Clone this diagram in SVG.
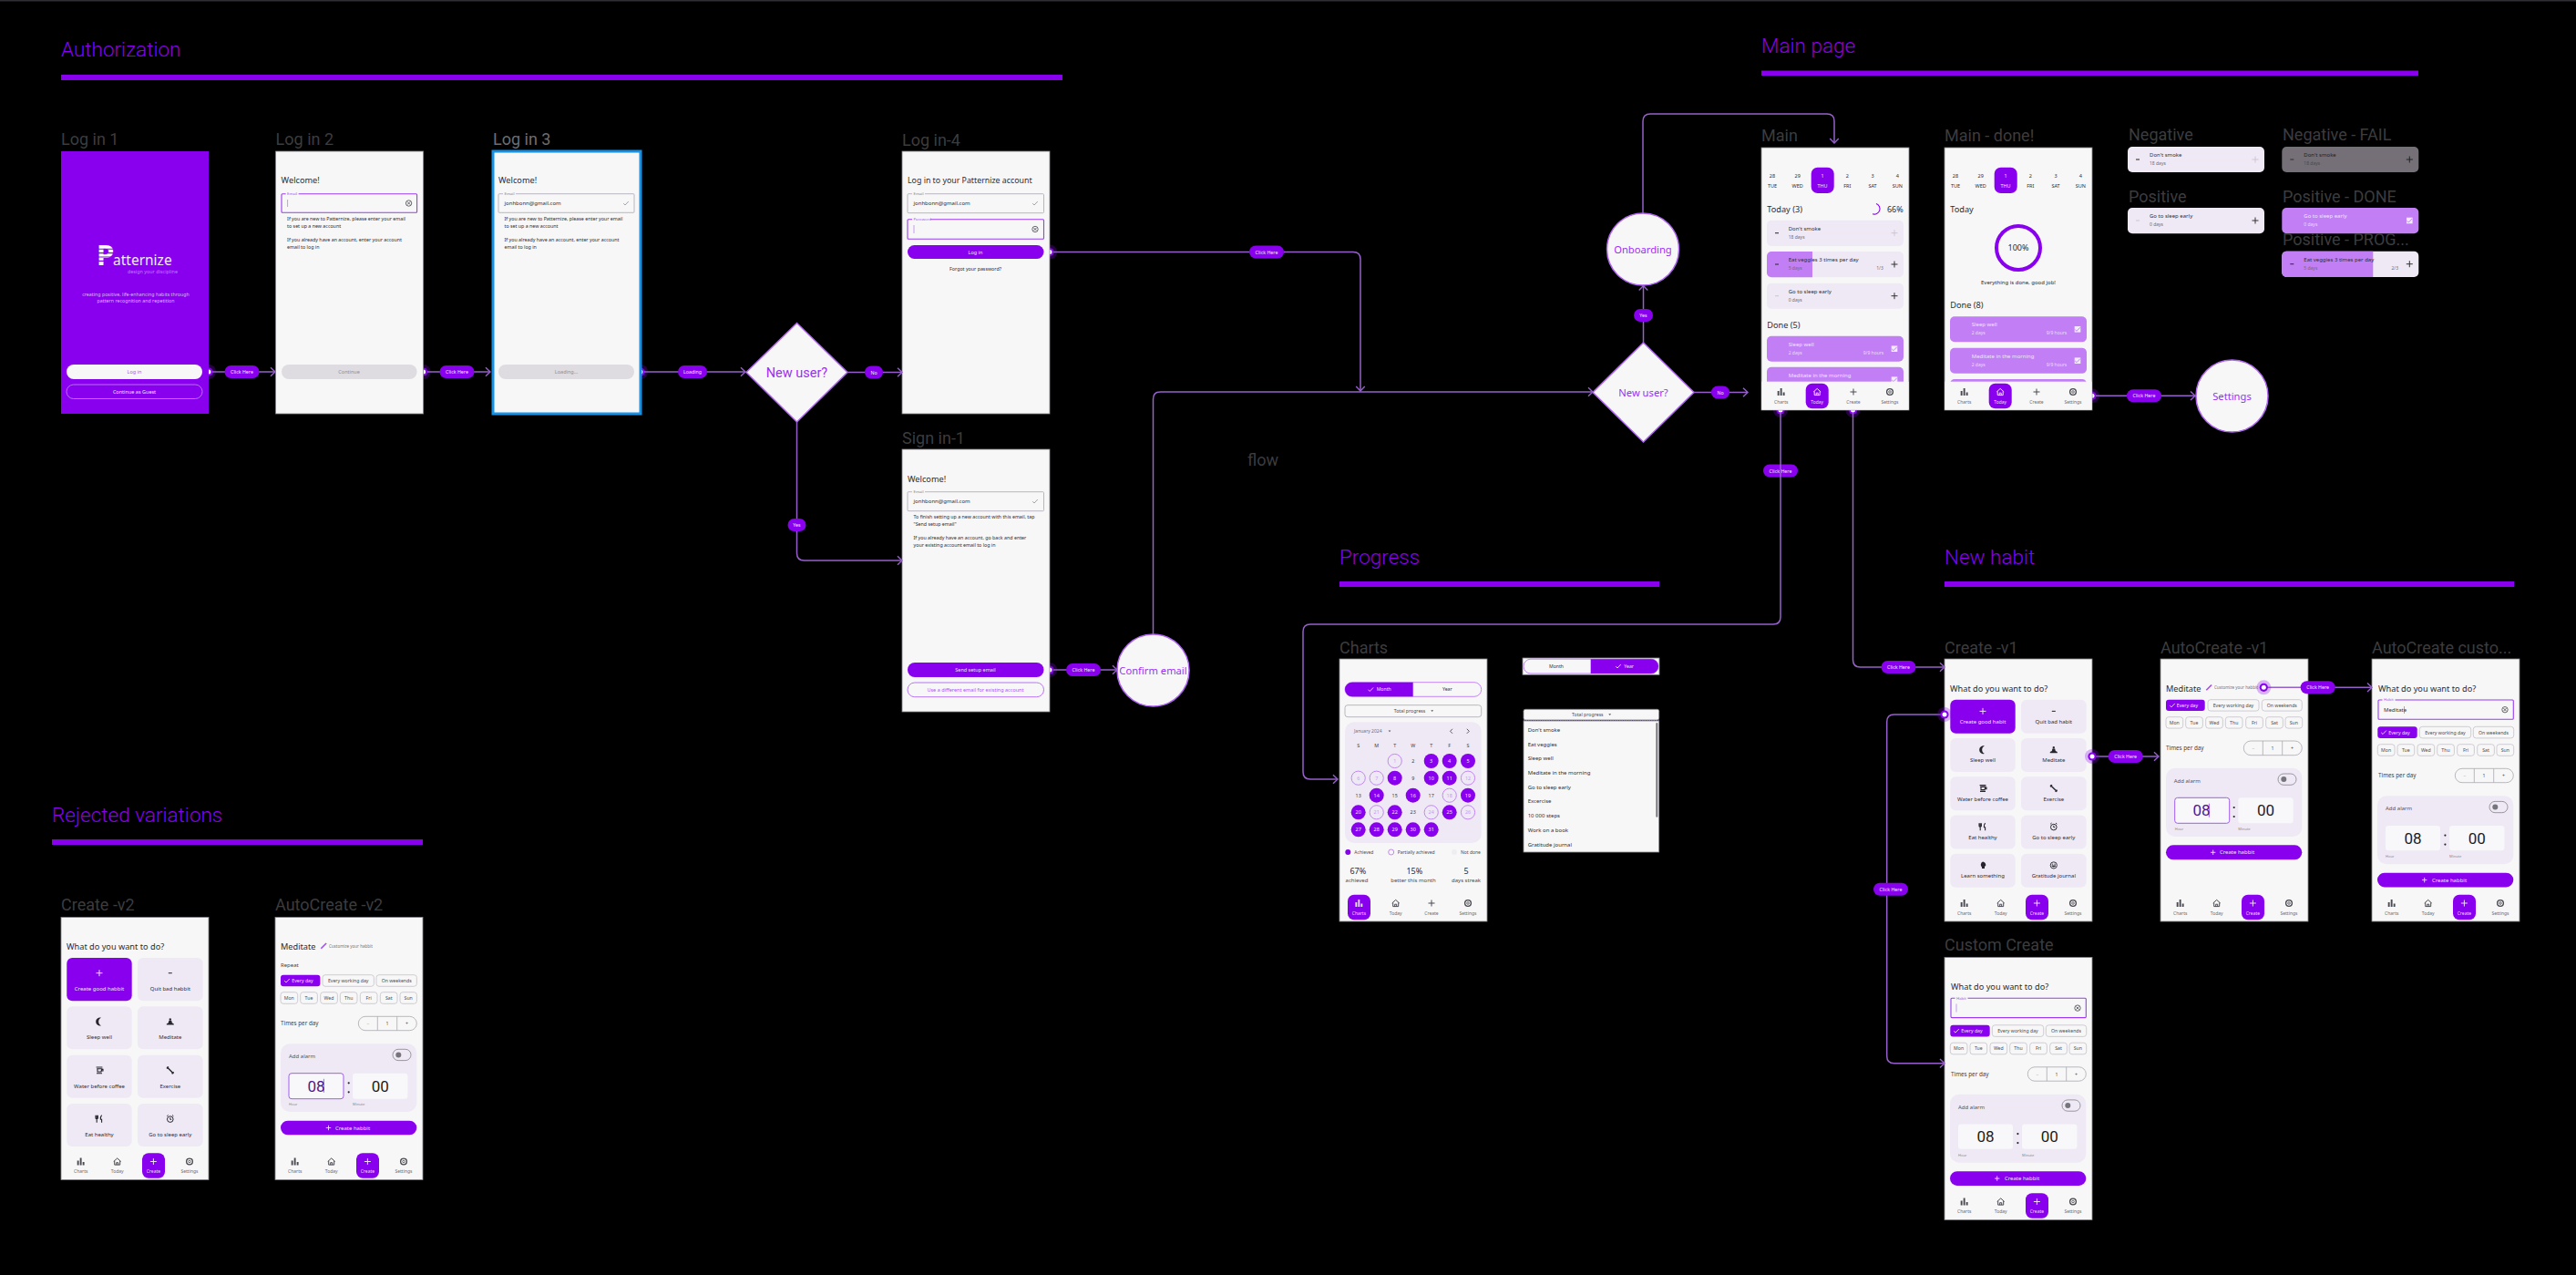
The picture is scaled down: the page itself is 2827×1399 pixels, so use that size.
<svg xmlns="http://www.w3.org/2000/svg" width="2827" height="1399" viewBox="0 0 2827 1399">
<style>
text{font-family:"Noto Sans","Open Sans",sans-serif;fill:#2c2c33}
.lbl{font-family:Roboto,sans-serif;font-size:18px;fill:#3c3c3e}
.sec{font-family:Roboto,sans-serif;font-size:22.5px;font-weight:300;fill:#8800ee}
.bar{fill:#8800ee}
.f{fill:#f7f7f7;stroke:#85858a;stroke-width:.8}
.h{font-size:9.2px}
.m{text-anchor:middle}
.s6{font-size:6px}
.s5{font-size:5px;fill:#4c4c52}
.hint{font-size:5.3px;fill:#2c2c33}
.flab{font-size:4.3px;fill:#8a8790}
.flabp{font-size:4.3px;fill:#a45cf0}
.fld{fill:#f7f7f7;stroke:#bab6c0;stroke-width:1}
.fldp{fill:#f7f7f7;stroke:#9a3cf2;stroke-width:1.1}
.on{fill:#8800ee}
.btx{font-size:5.5px;fill:#f0e0ff;text-anchor:middle}
.btp{font-size:5.5px;fill:#a855f7;text-anchor:middle}
.dis{fill:#dedce0}
.dtx{font-size:5.5px;fill:#8f8d93;text-anchor:middle}
.ol{fill:none;stroke:#b775f5;stroke-width:1}
.tab{font-size:5px;fill:#6d6d72;text-anchor:middle}
.tabon{font-size:5px;fill:#ecdcff;text-anchor:middle}
.dt{font-size:5.5px;text-anchor:middle;fill:#2c2c33}
.dton{font-size:5.5px;text-anchor:middle;fill:#efe0ff}
.card{fill:#efe9f5}
.prog{fill:#c17ef5}
.t{font-size:6px;fill:#2f2f36}
.st{font-size:5px;fill:#6f6d74}
.td{font-size:6px;fill:#f0e4ff}
.sd{font-size:5px;fill:#ecdcff}
.chip{fill:#f7f7f7;stroke:#c5c1ca;stroke-width:.8}
.c{font-size:5.2px;fill:#4c4c52;text-anchor:middle}
.cw{font-size:5.2px;fill:#efe0ff;text-anchor:middle}
.st1{fill:#f7f7f7;stroke:#aaa7ae;stroke-width:.8}
.dv{stroke:#aaa7ae;stroke-width:.8}
.big{font-family:Roboto,sans-serif;font-size:17px;text-anchor:middle;fill:#1c1c22}
.bigp{font-family:Roboto,sans-serif;font-size:17px;text-anchor:middle;fill:#4b1a8c}
.box{fill:#f8f7f9}
.boxp{fill:#f8f7f9;stroke:#a25cf2;stroke-width:1}
.tiny{font-size:4px;fill:#8a8790}
.kn{fill:#77757c}
.sw{fill:none;stroke:#8f8d93;stroke-width:.9}
.cal{font-size:5.4px;text-anchor:middle;fill:#3c3c42}
.calw{font-size:5.4px;text-anchor:middle;fill:#c896f8}
.calp{fill:none;stroke:#bb7cf5;stroke-width:.9}
.node{fill:#f7f7f7;stroke:#b067f2;stroke-width:1.5}
.ntx{font-size:11.2px;fill:#9a30f5;text-anchor:middle}
.lnk{fill:none;stroke:#9560ca;stroke-width:1.5}
.arr{marker-end:url(#arrow)}
.pill rect{fill:#8800ee}
.pill text{font-size:5.3px;fill:#f5e9ff;text-anchor:middle}
.i{color:#4a4a52}
</style>
<defs>
<marker id="arrow" markerUnits="userSpaceOnUse" markerWidth="8" markerHeight="12" viewBox="0 0 7 12" refX="6" refY="6" orient="auto"><path d="M1 1.2L6 6L1 10.8" fill="none" stroke="#9560ca" stroke-width="1.4"/></marker>
<g id="hot"><circle r="8" fill="#8800ee" opacity=".28"/><circle r="4.6" fill="#8800ee"/><circle r="2.5" fill="#fff"/></g>
<path id="i-bars" fill="currentColor" d="M-4-1h1.9v5h-1.9zM-1-4h1.9v8h-1.9zM2 0.5h1.9v3.5h-1.9z"/>
<path id="i-home" fill="none" stroke="currentColor" d="M-4 0L0-3.6L4 0M-3-.6V3.6H3V-.6M-1 3.6V1.2H1V3.6"/>
<path id="i-plus" fill="none" stroke="currentColor" d="M-3.5 0H3.5M0-3.5V3.5"/>
<path id="i-minus" fill="none" stroke="currentColor" stroke-width="1.1" d="M-2 0H2"/>
<g id="i-gear" fill="none" stroke="currentColor"><circle r="3.4" stroke-width="1.3"/><circle r="1.3" stroke-width=".8"/></g>
<path id="i-check" fill="none" stroke="currentColor" stroke-width=".9" d="M-2.8.2L-1 2L2.8-2"/>
<g id="i-clear" fill="none" stroke="#45454c" stroke-width=".8"><circle r="3.2"/><path d="M-1.6-1.6L1.6 1.6M1.6-1.6L-1.6 1.6"/></g>
<path id="i-moon" fill="currentColor" d="M2 -4.4C-1.5 -5 -3.8 -2.6 -3.8 0C-3.8 2.6 -1.5 5 2 4.4C0 3.4 -0.8 1.6 -0.8 0C-0.8 -1.6 0 -3.4 2 -4.4Z"/>
<path id="i-med" fill="currentColor" d="M0-3.8a1.2 1.2 0 1 1-.01 0ZM-1.4-1.2H1.4L2 1.2L4 2.4V3.6H-4V2.4L-2 1.2Z"/>
<path id="i-cup" fill="none" stroke="currentColor" stroke-width="1.1" d="M-3.4-3.4H3.4M-2.8-1.6H2.8L2 1.6H-2V-1.6M2.8-1H4V.6H2.4M-3 3.4H3"/>
<path id="i-dumb" fill="none" stroke="currentColor" stroke-width="1.4" d="M-3.6-3.6L3.6 3.6M-3.8-1.8L-1.8-3.8M1.8 3.8L3.8 1.8"/>
<path id="i-fork" fill="none" stroke="currentColor" stroke-width="1.1" d="M-4-4V-1Q-4 0-2.8 0Q-1.6 0-1.6-1V-4M-2.8-4V4M2.6-4Q1 -2 1.4 .6H2.6V4"/>
<g id="i-alarm" fill="none" stroke="currentColor" stroke-width="1"><circle cy=".4" r="3.3"/><path d="M0-1.4V.6H1.4M-3.6-3L-2.2-4.2M3.6-3L2.2-4.2"/></g>
<path id="i-brain" fill="currentColor" d="M0-3.8A3.6 3.6 0 0 1 3.2.6L2 1.4V3.6H-1V2.2A3.6 3.6 0 0 1 0-3.8Z"/>
<g id="i-smile" fill="none" stroke="currentColor" stroke-width=".9"><circle r="3.6"/><path d="M-2 .6Q0 2.8 2 .6Z" fill="currentColor"/><path d="M-2-1.2H-.6M.6-1.2H2"/></g>
<path id="i-pen" fill="none" stroke="#a24cf2" stroke-width="1.6" d="M-3 3L2.8-2.8"/>
<path id="i-cb" fill="#f3eaff" d="M-3.3-3.3H3.3V3.3H-3.3Z"/>
<path id="i-caret" fill="#55555c" d="M-1.4-.8H1.4L0 .9Z"/>
</defs>
<rect width="2827" height="1399" fill="#000"/>
<rect width="2827" height="1.5" fill="#2f2f33"/>

<g id="connector-anchors"><use href="#hot" x="229" y="408"/><use href="#hot" x="464.6" y="408"/><use href="#hot" x="703" y="408"/><use href="#hot" x="1152" y="276.5"/><use href="#hot" x="1152" y="735"/><use href="#hot" x="1954" y="450"/><use href="#hot" x="2033.5" y="450"/><use href="#hot" x="2296" y="434.3"/></g>

<g id="sections">
<text class="sec" x="67" y="62">Authorization</text><rect class="bar" x="67" y="82" width="1099" height="6"/>
<text class="sec" x="1933" y="58">Main page</text><rect class="bar" x="1933" y="77.5" width="721" height="5.5"/>
<text class="sec" x="1470" y="619">Progress</text><rect class="bar" x="1470" y="638" width="351" height="6"/>
<text class="sec" x="2134" y="619">New habit</text><rect class="bar" x="2134" y="638" width="625" height="6"/>
<text class="sec" x="57" y="902">Rejected variations</text><rect class="bar" x="57" y="921" width="407" height="6"/>
<text class="lbl" x="1369" y="511">flow</text>
</g>

<g id="login1"><text class="lbl" x="67" y="159">Log in 1</text>
<g transform="translate(67,166)"><rect width="162" height="288" fill="#8800ee"/>
<text x="39" y="125" font-size="31" font-weight="700" style="fill:#fff">P</text>
<path d="M38 107.2H62M38 111.6H62M38 116H62M38 120.4H62" stroke="#8800ee" stroke-width="1.1"/>
<text x="57" y="124.6" font-size="15.5" style="fill:#f3e6ff">atternize</text>
<text x="128" y="134" font-size="5.4" text-anchor="end" style="fill:#bb82f5">design your discipline</text>
<text class="m" x="82" y="158.5" font-size="5.3" style="fill:#d9b8fa">creating positive, life-enhancing habits through</text>
<text class="m" x="82" y="166" font-size="5.3" style="fill:#d9b8fa">pattern recognition and repetition</text>
<rect x="6" y="234" width="149" height="16" rx="8" fill="#f7f7f7"/><text class="btp" x="80.5" y="244">Log in</text>
<rect class="ol" x="6" y="256" width="149" height="15.5" rx="7.7"/><text class="btx" x="80.5" y="265.8">Continue as Guest</text>
</g></g>

<g id="login2"><text class="lbl" x="302.6" y="159">Log in 2</text>
<g transform="translate(302.6,166)"><rect class="f" width="162" height="288"/>
<text class="h" x="6" y="35">Welcome!</text>
<rect class="fldp" x="6.4" y="46.7" width="148.6" height="20.6" rx="1"/><rect x="11" y="45.5" width="14" height="2.4" fill="#f7f7f7"/><text class="flabp" x="12.5" y="48">Email</text>
<path d="M13 53V61" stroke="#a45cf0" stroke-width=".6"/><use href="#i-clear" x="146" y="57"/>
<text class="hint" x="12.5" y="75.6">If you are new to Patternize, please enter your email</text>
<text class="hint" x="12.5" y="83.6">to set up a new account</text>
<text class="hint" x="12.5" y="99.2">If you already have an account, enter your account</text>
<text class="hint" x="12.5" y="107">email to log in</text>
<rect class="dis" x="6.4" y="234" width="148.6" height="16" rx="8"/><text class="dtx" x="80.5" y="244">Continue</text>
</g></g>

<g id="login3"><text class="lbl" x="541" y="159" style="fill:#6d6d70">Log in 3</text>
<g transform="translate(541,166)"><rect width="162" height="288" fill="#f7f7f7" stroke="#1592e6" stroke-width="3"/>
<text class="h" x="6" y="35">Welcome!</text>
<rect class="fld" x="6" y="46.7" width="149" height="20.6" rx="1"/><rect x="11" y="45.5" width="14" height="2.4" fill="#f7f7f7"/><text class="flab" x="12.5" y="48">Email</text>
<text class="t" x="12.5" y="59">jonhbonn@gmail.com</text><use href="#i-check" x="146" y="57" color="#9a989e"/>
<text class="hint" x="12.5" y="75.6">If you are new to Patternize, please enter your email</text>
<text class="hint" x="12.5" y="83.6">to set up a new account</text>
<text class="hint" x="12.5" y="99.2">If you already have an account, enter your account</text>
<text class="hint" x="12.5" y="107">email to log in</text>
<rect class="dis" x="6" y="234" width="149" height="16" rx="8"/><text class="dtx" x="80.5" y="244">Loading...</text>
</g></g>

<g id="decision1"><path class="node" d="M874.5 354.5L930 408.5L874.5 463L819 408.5Z"/><text x="874.5" y="414" class="m" style="font-family:Roboto,sans-serif;font-size:14.5px;fill:#9a30f5">New user?</text></g>

<g id="login4"><text class="lbl" x="990" y="160">Log in-4</text>
<g transform="translate(990,166)"><rect class="f" width="162" height="288"/>
<text x="6" y="35" font-size="8.8">Log in to your Patternize account</text>
<rect class="fld" x="6" y="46.7" width="149.5" height="21" rx="1"/><rect x="11" y="45.5" width="14" height="2.4" fill="#f7f7f7"/><text class="flab" x="12.5" y="48">Email</text>
<text class="t" x="12.5" y="59.3">jonhbonn@gmail.com</text><use href="#i-check" x="146" y="57" color="#9a989e"/>
<rect class="fldp" x="6" y="74.8" width="149.5" height="21.5" rx="1"/><rect x="11" y="73.6" width="20" height="2.4" fill="#f7f7f7"/><text class="flabp" x="12.5" y="76">Password</text>
<path d="M13 81V90" stroke="#a45cf0" stroke-width=".6"/><use href="#i-clear" x="146" y="85.5"/>
<rect class="on" x="6" y="103" width="149.5" height="15" rx="7.5"/><text class="btx" x="80.5" y="112.5">Log in</text>
<text class="m" x="80.5" y="130.5" font-size="5.3">Forgot your password?</text>
</g></g>

<g id="signin1"><text class="lbl" x="990" y="487">Sign in-1</text>
<g transform="translate(990,493)"><rect class="f" width="162" height="288"/>
<text class="h" x="6" y="35.5">Welcome!</text>
<rect class="fld" x="6" y="46.7" width="149.5" height="21" rx="1"/><rect x="11" y="45.5" width="14" height="2.4" fill="#f7f7f7"/><text class="flab" x="12.5" y="48">Email</text>
<text class="t" x="12.5" y="59.3">jonhbonn@gmail.com</text><use href="#i-check" x="146" y="57" color="#9a989e"/>
<text class="hint" x="12.5" y="75.6">To finish setting up a new account with this email, tap</text>
<text class="hint" x="12.5" y="83.6">"Send setup email"</text>
<text class="hint" x="12.5" y="99">If you already have an account, go back and enter</text>
<text class="hint" x="12.5" y="107">your existing account email to log in</text>
<rect class="on" x="6" y="234" width="149.5" height="16" rx="8"/><text class="btx" x="80.5" y="244">Send setup email</text>
<rect class="ol" x="6" y="256" width="149.5" height="15.7" rx="7.8"/><text class="btp" x="80.5" y="265.8">Use a different email for existing account</text>
</g></g>

<g id="confirm"><circle class="node" cx="1265.5" cy="735.5" r="39.5"/><text class="ntx" x="1265.5" y="739.5">Confirm email</text></g>
<g id="onboarding"><circle class="node" cx="1803" cy="273.5" r="39.5"/><text class="ntx" x="1803" y="277.5">Onboarding</text></g>
<g id="decision2"><path class="node" d="M1803.5 376L1859 430.5L1803.5 485L1748 430.5Z"/><text class="ntx" x="1803.5" y="434.5">New user?</text></g>
<g id="settings"><circle class="node" cx="2449.5" cy="434.5" r="39.5"/><text class="ntx" x="2449.5" y="438.5">Settings</text></g>

<g id="main"><text class="lbl" x="1933" y="155">Main</text>
<g transform="translate(1933,162)"><rect class="f" width="162" height="288"/>
<rect class="on" x="54.7" y="21.7" width="25" height="28.3" rx="7"/>
<text class="dt" x="12" y="33.3">28</text><text class="dt" x="12" y="44">TUE</text>
<text class="dt" x="39.7" y="33.3">29</text><text class="dt" x="39.7" y="44">WED</text>
<text class="dton" x="67" y="33.3">1</text><text class="dton" x="67" y="44">THU</text>
<text class="dt" x="94.3" y="33.3">2</text><text class="dt" x="94.3" y="44">FRI</text>
<text class="dt" x="122" y="33.3">3</text><text class="dt" x="122" y="44">SAT</text>
<text class="dt" x="149.3" y="33.3">4</text><text class="dt" x="149.3" y="44">SUN</text>
<text class="h" x="6.3" y="70.5">Today (3)</text><path d="M126 61.5A5.8 5.8 0 1 1 122 72.8" fill="none" stroke="#8800ee" stroke-width="1.1"/><text x="155.7" y="70.5" font-size="9" text-anchor="end">66%</text>
<g transform="translate(6,79.7)"><rect class="card" width="150" height="28.3" rx="5"/><use href="#i-minus" x="11" y="14" color="#333"/><text class="t" x="23.7" y="11.2">Don't smoke</text><text class="st" x="23.7" y="20">18 days</text><use href="#i-plus" x="140" y="14" color="#ccc8d2"/></g>
<g transform="translate(6,114)"><rect class="card" width="150" height="28.3" rx="5"/><path class="prog" d="M5 0H50V28.3H5A5 5 0 0 1 0 23.3V5A5 5 0 0 1 5 0Z"/><use href="#i-minus" x="11" y="14" color="#333"/><text class="t" x="23.7" y="11.2">Eat veggies 3 times per day</text><text class="st" x="23.7" y="20">5 days</text><text class="st" x="124" y="20" text-anchor="middle">1/3</text><use href="#i-plus" x="140" y="14" color="#333"/></g>
<g transform="translate(6,148.7)"><rect class="card" width="150" height="28" rx="5"/><use href="#i-minus" x="11" y="14" color="#ccc8d2"/><text class="t" x="23.7" y="11.2">Go to sleep early</text><text class="st" x="23.7" y="20">0 days</text><use href="#i-plus" x="140" y="14" color="#333"/></g>
<text class="h" x="6.3" y="197.5">Done (5)</text>
<g transform="translate(6,206.7)"><rect class="prog" width="150" height="28" rx="5"/><text class="td" x="23.7" y="11.2">Sleep well</text><text class="sd" x="23.7" y="20">2 days</text><text class="sd" x="117" y="20" text-anchor="middle">9/9 hours</text><use href="#i-cb" x="140" y="14"/><use href="#i-check" x="140" y="14" color="#b57af0"/></g>
<g transform="translate(6,240.7)"><rect class="prog" width="150" height="28" rx="5"/><text class="td" x="23.7" y="11.2">Meditate in the morning</text><text class="sd" x="23.7" y="20">2 days</text><use href="#i-cb" x="140" y="14"/><use href="#i-check" x="140" y="14" color="#b57af0"/></g>
<rect x=".4" y="256.7" width="161.2" height="30.9" fill="#f7f7f7"/>
<g class="i"><use href="#i-bars" x="21.7" y="268"/><text class="tab" x="21.7" y="280.5">Charts</text>
<rect class="on" x="48.7" y="258.7" width="25" height="27.6" rx="7"/><use href="#i-home" x="61.2" y="268" color="#ecdcff"/><text class="tabon" x="61.2" y="280.5">Today</text>
<use href="#i-plus" x="101" y="268"/><text class="tab" x="101" y="280.5">Create</text>
<use href="#i-gear" x="141" y="268"/><text class="tab" x="141" y="280.5">Settings</text></g>
</g></g>

<g id="main-done"><text class="lbl" x="2134" y="155">Main - done!</text>
<g transform="translate(2134,162)"><rect class="f" width="162" height="288"/>
<rect class="on" x="54.7" y="21.7" width="25" height="28.3" rx="7"/>
<text class="dt" x="12" y="33.3">28</text><text class="dt" x="12" y="44">TUE</text>
<text class="dt" x="39.7" y="33.3">29</text><text class="dt" x="39.7" y="44">WED</text>
<text class="dton" x="67" y="33.3">1</text><text class="dton" x="67" y="44">THU</text>
<text class="dt" x="94.3" y="33.3">2</text><text class="dt" x="94.3" y="44">FRI</text>
<text class="dt" x="122" y="33.3">3</text><text class="dt" x="122" y="44">SAT</text>
<text class="dt" x="149.3" y="33.3">4</text><text class="dt" x="149.3" y="44">SUN</text>
<text class="h" x="6.3" y="70.5">Today</text>
<circle cx="81" cy="110" r="24" fill="none" stroke="#8800ee" stroke-width="4"/><text class="m" x="81" y="113" font-size="9">100%</text>
<text class="m" x="81" y="150" font-size="6">Everything is done, good job!</text>
<text class="h" x="6.3" y="176">Done (8)</text>
<g transform="translate(6,185.3)"><rect class="prog" width="150" height="28" rx="5"/><text class="td" x="23.7" y="11.2">Sleep well</text><text class="sd" x="23.7" y="20">2 days</text><text class="sd" x="117" y="20" text-anchor="middle">9/9 hours</text><use href="#i-cb" x="140" y="14"/><use href="#i-check" x="140" y="14" color="#b57af0"/></g>
<g transform="translate(6,219.7)"><rect class="prog" width="150" height="28" rx="5"/><text class="td" x="23.7" y="11.2">Meditate in the morning</text><text class="sd" x="23.7" y="20">2 days</text><text class="sd" x="117" y="20" text-anchor="middle">9/9 hours</text><use href="#i-cb" x="140" y="14"/><use href="#i-check" x="140" y="14" color="#b57af0"/></g>
<rect class="prog" x="6" y="254" width="150" height="20" rx="5"/>
<rect x=".4" y="256.7" width="161.2" height="30.9" fill="#f7f7f7"/>
<g class="i"><use href="#i-bars" x="21.7" y="268"/><text class="tab" x="21.7" y="280.5">Charts</text>
<rect class="on" x="48.7" y="258.7" width="25" height="27.6" rx="7"/><use href="#i-home" x="61.2" y="268" color="#ecdcff"/><text class="tabon" x="61.2" y="280.5">Today</text>
<use href="#i-plus" x="101" y="268"/><text class="tab" x="101" y="280.5">Create</text>
<use href="#i-gear" x="141" y="268"/><text class="tab" x="141" y="280.5">Settings</text></g>
</g></g>

<g id="state-negative"><text class="lbl" x="2336" y="154">Negative</text><g transform="translate(2335,161)"><rect class="card" width="150" height="28" rx="5"/><use href="#i-minus" x="11" y="14" color="#333"/><text class="t" x="24" y="11.2">Don't smoke</text><text class="st" x="24" y="20">18 days</text><use href="#i-plus" x="140" y="14" color="#ccc8d2"/></g></g>
<g id="state-negative-fail"><text class="lbl" x="2505" y="154">Negative - FAIL</text><g transform="translate(2504.3,161)"><rect width="150" height="28" rx="5" fill="#757078"/><use href="#i-minus" x="11" y="14" color="#333"/><text class="t" x="24" y="11.2" style="fill:#222">Don't smoke</text><text class="st" x="24" y="20" style="fill:#4a484e">18 days</text><use href="#i-plus" x="140" y="14" color="#222"/></g></g>
<g id="state-positive"><text class="lbl" x="2336" y="221.7">Positive</text><g transform="translate(2335,228)"><rect class="card" width="150" height="28.3" rx="5"/><use href="#i-minus" x="11" y="14" color="#ccc8d2"/><text class="t" x="24" y="11.2">Go to sleep early</text><text class="st" x="24" y="20">0 days</text><use href="#i-plus" x="140" y="14" color="#333"/></g></g>
<g id="state-positive-done"><text class="lbl" x="2505" y="221.7">Positive - DONE</text><g transform="translate(2504.3,228)"><rect class="prog" width="150" height="28.3" rx="5"/><text class="td" x="24" y="11.2">Go to sleep early</text><text class="sd" x="24" y="20">0 days</text><use href="#i-cb" x="140" y="14"/><use href="#i-check" x="140" y="14" color="#b57af0"/></g></g>
<g id="state-positive-progress"><text class="lbl" x="2505" y="269">Positive - PROG...</text><g transform="translate(2504.3,275.7)"><rect class="card" width="150" height="28.3" rx="5"/><path class="prog" d="M5 0H100V28.3H5A5 5 0 0 1 0 23.3V5A5 5 0 0 1 5 0Z"/><use href="#i-minus" x="11" y="14" color="#333"/><text class="t" x="24" y="11.2">Eat veggies 3 times per day</text><text class="st" x="24" y="20">5 days</text><text class="st" x="124" y="20" text-anchor="middle">2/3</text><use href="#i-plus" x="140" y="14" color="#333"/></g></g>

<g id="charts"><text class="lbl" x="1470" y="716.7">Charts</text>
<g transform="translate(1470,723)"><rect class="f" width="162" height="288"/>
<rect x="6" y="25.7" width="149.7" height="15.6" rx="7.8" fill="#f7f7f7" stroke="#bb7cf5" stroke-width=".9"/><path class="on" d="M80.7 25.7V41.3H13.8A7.8 7.8 0 0 1 13.8 25.7Z"/>
<use href="#i-check" x="34.3" y="33.5" color="#efe0ff"/><text class="cw" x="48.7" y="35.4">Month</text><text class="c" x="118.3" y="35.4" style="fill:#333">Year</text>
<rect class="fld" x="6" y="50.7" width="149.7" height="13" rx="3"/><text class="c" x="77" y="59.2">Total progress</text><use href="#i-caret" x="101.7" y="57"/>
<rect class="card" x="6" y="69.3" width="149.7" height="132.7" rx="10"/>
<text class="st" x="16" y="81.2">January 2024</text><use href="#i-caret" x="55" y="79.3"/>
<path d="M124 76.8L121.5 79.3L124 81.8M139.8 76.8L142.3 79.3L139.8 81.8" fill="none" stroke="#33333a" stroke-width=".8"/>
<g><text class="cal" x="20.7" y="97.3">S</text><text class="cal" x="40.7" y="97.3">M</text><text class="cal" x="60.7" y="97.3">T</text><text class="cal" x="80.7" y="97.3">W</text><text class="cal" x="100.7" y="97.3">T</text><text class="cal" x="120.7" y="97.3">F</text><text class="cal" x="141" y="97.3">S</text></g>
<circle class="calp" cx="60.7" cy="112" r="7.6"/><text class="calw" x="60.7" y="114">1</text><text class="cal" x="80.7" y="114">2</text>
<circle class="on" cx="100.7" cy="112" r="8"/><text class="btx" x="100.7" y="114">3</text><circle class="on" cx="120.7" cy="112" r="8"/><text class="btx" x="120.7" y="114">4</text><circle class="on" cx="141" cy="112" r="8"/><text class="btx" x="141" y="114">5</text>
<circle class="calp" cx="20.7" cy="130.7" r="7.6"/><text class="calw" x="20.7" y="132.7">6</text><circle class="calp" cx="40.7" cy="130.7" r="7.6"/><text class="calw" x="40.7" y="132.7">7</text><circle class="on" cx="60.7" cy="130.7" r="8"/><text class="btx" x="60.7" y="132.7">8</text><text class="cal" x="80.7" y="132.7">9</text><circle class="on" cx="100.7" cy="130.7" r="8"/><text class="btx" x="100.7" y="132.7">10</text><circle class="on" cx="120.7" cy="130.7" r="8"/><text class="btx" x="120.7" y="132.7">11</text><circle class="calp" cx="141" cy="130.7" r="7.6"/><text class="calw" x="141" y="132.7">12</text>
<text class="cal" x="20.7" y="151.7">13</text><circle class="on" cx="40.7" cy="149.7" r="8"/><text class="btx" x="40.7" y="151.7">14</text><text class="cal" x="60.7" y="151.7">15</text><circle class="on" cx="80.7" cy="149.7" r="8"/><text class="btx" x="80.7" y="151.7">16</text><text class="cal" x="100.7" y="151.7">17</text><circle class="calp" cx="120.7" cy="149.7" r="7.6"/><text class="calw" x="120.7" y="151.7">18</text><circle class="on" cx="141" cy="149.7" r="8"/><text class="btx" x="141" y="151.7">19</text>
<circle class="on" cx="20.7" cy="168.3" r="8"/><text class="btx" x="20.7" y="170.3">20</text><circle class="calp" cx="40.7" cy="168.3" r="7.6"/><text class="calw" x="40.7" y="170.3">21</text><circle class="on" cx="60.7" cy="168.3" r="8"/><text class="btx" x="60.7" y="170.3">22</text><text class="cal" x="80.7" y="170.3">23</text><circle class="calp" cx="100.7" cy="168.3" r="7.6"/><text class="calw" x="100.7" y="170.3">24</text><circle class="on" cx="120.7" cy="168.3" r="8"/><text class="btx" x="120.7" y="170.3">25</text><circle class="calp" cx="141" cy="168.3" r="7.6"/><text class="calw" x="141" y="170.3">26</text>
<circle class="on" cx="20.7" cy="187.3" r="8"/><text class="btx" x="20.7" y="189.3">27</text><circle class="on" cx="40.7" cy="187.3" r="8"/><text class="btx" x="40.7" y="189.3">28</text><circle class="on" cx="60.7" cy="187.3" r="8"/><text class="btx" x="60.7" y="189.3">29</text><circle class="on" cx="80.7" cy="187.3" r="8"/><text class="btx" x="80.7" y="189.3">30</text><circle class="on" cx="100.7" cy="187.3" r="8"/><text class="btx" x="100.7" y="189.3">31</text>
<circle class="on" cx="9.3" cy="212" r="3"/><text class="s5" x="16.3" y="213.8">Achieved</text><circle class="calp" cx="56.7" cy="212" r="3"/><text class="s5" x="63.7" y="213.8">Partially achieved</text><circle cx="126" cy="212" r="3" fill="#efedf1"/><text class="s5" x="133" y="213.8">Not done</text>
<text class="m" x="20.3" y="235.5" font-size="9">67%</text><text class="m" x="82.3" y="235.5" font-size="9">15%</text><text class="m" x="139" y="235.5" font-size="9">5</text>
<text class="m s6" x="19" y="245.3" style="fill:#4c4c52">achieved</text><text class="m s6" x="81" y="245.3" style="fill:#4c4c52">better this month</text><text class="m s6" x="139" y="245.3" style="fill:#4c4c52">days streak</text>
<g class="i"><rect class="on" x="9" y="258.7" width="25" height="27.6" rx="7"/><use href="#i-bars" x="21.4" y="268" color="#ecdcff"/><text class="tabon" x="21.4" y="280.5">Charts</text>
<use href="#i-home" x="61.7" y="268"/><text class="tab" x="61.7" y="280.5">Today</text>
<use href="#i-plus" x="101" y="268"/><text class="tab" x="101" y="280.5">Create</text>
<use href="#i-gear" x="141" y="268"/><text class="tab" x="141" y="280.5">Settings</text></g>
</g></g>

<g id="toggle"><rect x="1671" y="722" width="150" height="18.3" fill="#f7f7f7" stroke="#85858a" stroke-width=".8"/>
<rect x="1672" y="723.2" width="148" height="15.8" rx="7.9" fill="#f7f7f7" stroke="#bb7cf5" stroke-width=".9"/><path class="on" d="M1745.7 723.2H1812.1A7.9 7.9 0 0 1 1812.1 739H1745.7Z"/>
<text class="c" x="1708" y="733.2" style="fill:#333">Month</text><use href="#i-check" x="1776" y="731" color="#efe0ff"/><text class="cw" x="1787.7" y="733.2">Year</text></g>

<g id="dropdown"><rect class="f" x="1672" y="778.3" width="148.7" height="11.7" rx="2"/><path d="M1672 790.2H1820.7" stroke="#c8a7ee" stroke-width=".8" stroke-dasharray="1.5 1"/><text class="c" x="1742.3" y="786">Total progress</text><use href="#i-caret" x="1766.7" y="784"/>
<rect class="f" x="1672" y="791" width="148.7" height="144"/><rect x="1817.3" y="793" width="2" height="103.7" rx="1" fill="#77757c"/>
<text class="t" x="1676.7" y="803">Don't smoke</text><text class="t" x="1676.7" y="818.7">Eat veggies</text><text class="t" x="1676.7" y="834.3">Sleep well</text><text class="t" x="1676.7" y="850">Meditate in the morning</text><text class="t" x="1676.7" y="865.7">Go to sleep early</text><text class="t" x="1676.7" y="881.3">Excercise</text><text class="t" x="1676.7" y="897">10 000 steps</text><text class="t" x="1676.7" y="912.7">Work on a book</text><text class="t" x="1676.7" y="928.7">Gratitude journal</text></g>

<g id="create-v1"><text class="lbl" x="2134" y="716.7">Create -v1</text>
<g transform="translate(2134,723)"><rect class="f" width="162" height="288"/>
<text class="h" x="6" y="35.5">What do you want to do?</text>
<g transform="translate(6.3,44.7)"><rect class="on" width="71.4" height="37" rx="6"/><use href="#i-plus" x="35.7" y="12.7" color="#ecdcff"/><text class="cw" x="35.7" y="26.3" style="font-size:6px">Create good habit</text></g>
<g transform="translate(84,44.7)"><rect class="card" width="71.7" height="37" rx="6"/><use href="#i-minus" x="35.8" y="12.7" color="#333"/><text class="t m" x="35.8" y="26.3">Quit bad habit</text></g>
<g transform="translate(6.3,87)"><rect class="card" width="71.4" height="37" rx="6"/><use href="#i-moon" x="35.7" y="12.7" color="#26262c"/><text class="t m" x="35.7" y="26.3">Sleep well</text></g>
<g transform="translate(84,87)"><rect class="card" width="71.7" height="37" rx="6"/><use href="#i-med" x="35.8" y="12.7" color="#26262c"/><text class="t m" x="35.8" y="26.3">Meditate</text></g>
<g transform="translate(6.3,129.3)"><rect class="card" width="71.4" height="37" rx="6"/><use href="#i-cup" x="35.7" y="12.7" color="#26262c"/><text class="t m" x="35.7" y="26.3">Water before coffee</text></g>
<g transform="translate(84,129.3)"><rect class="card" width="71.7" height="37" rx="6"/><use href="#i-dumb" x="35.8" y="12.7" color="#26262c"/><text class="t m" x="35.8" y="26.3">Exercise</text></g>
<g transform="translate(6.3,171.5)"><rect class="card" width="71.4" height="37" rx="6"/><use href="#i-fork" x="35.7" y="12.7" color="#26262c"/><text class="t m" x="35.7" y="26.3">Eat healthy</text></g>
<g transform="translate(84,171.5)"><rect class="card" width="71.7" height="37" rx="6"/><use href="#i-alarm" x="35.8" y="12.7" color="#26262c"/><text class="t m" x="35.8" y="26.3">Go to sleep early</text></g>
<g transform="translate(6.3,213.7)"><rect class="card" width="71.4" height="37" rx="6"/><use href="#i-brain" x="35.7" y="12.7" color="#26262c"/><text class="t m" x="35.7" y="26.3">Learn something</text></g>
<g transform="translate(84,213.7)"><rect class="card" width="71.7" height="37" rx="6"/><use href="#i-smile" x="35.8" y="12.7" color="#26262c"/><text class="t m" x="35.8" y="26.3">Gratitude journal</text></g>
<g class="i"><use href="#i-bars" x="21.7" y="268"/><text class="tab" x="21.7" y="280.5">Charts</text>
<use href="#i-home" x="61.7" y="268"/><text class="tab" x="61.7" y="280.5">Today</text>
<rect class="on" x="89" y="258.7" width="25" height="27.6" rx="7"/><use href="#i-plus" x="101.4" y="268" color="#ecdcff"/><text class="tabon" x="101.4" y="280.5">Create</text>
<use href="#i-gear" x="141" y="268"/><text class="tab" x="141" y="280.5">Settings</text></g>
</g></g>

<g id="autocreate-v1"><text class="lbl" x="2371" y="716.7">AutoCreate -v1</text>
<g transform="translate(2371,723)"><rect class="f" width="162" height="288"/>
<text class="h" x="6" y="35.5">Meditate</text><use href="#i-pen" x="53.3" y="31.3"/><text x="59" y="33" font-size="4.5" style="fill:#77757c">Customize your habbit</text>
<g transform="translate(0,44.7)"><rect class="on" x="6" width="42.7" height="12.4" rx="3"/><use href="#i-check" x="13" y="6.2" color="#efe0ff"/><text class="cw" x="29.5" y="8.2">Every day</text><rect class="chip" x="52" width="56" height="12.4" rx="3"/><text class="c" x="80" y="8.2">Every working day</text><rect class="chip" x="111.3" width="44" height="12.4" rx="3"/><text class="c" x="133.3" y="8.2">On weekends</text></g>
<g transform="translate(0,63.7)"><rect class="chip" x="6" width="18.7" height="12.4" rx="3"/><text class="c" x="15.3" y="8.2">Mon</text><rect class="chip" x="27.7" width="18.7" height="12.4" rx="3"/><text class="c" x="37" y="8.2">Tue</text><rect class="chip" x="49.7" width="18.7" height="12.4" rx="3"/><text class="c" x="59" y="8.2">Wed</text><rect class="chip" x="71.3" width="18.7" height="12.4" rx="3"/><text class="c" x="80.7" y="8.2">Thu</text><rect class="chip" x="93.7" width="18.7" height="12.4" rx="3"/><text class="c" x="103" y="8.2">Fri</text><rect class="chip" x="115.7" width="18.7" height="12.4" rx="3"/><text class="c" x="125" y="8.2">Sat</text><rect class="chip" x="137" width="18.7" height="12.4" rx="3"/><text class="c" x="146.3" y="8.2">Sun</text></g>
<text x="6" y="99.7" font-size="6.3" style="fill:#44444a">Times per day</text>
<g transform="translate(0,90)"><rect class="st1" x="91.3" width="64" height="15.7" rx="7.8"/><path class="dv" d="M112.3 0V15.7M133.7 0V15.7"/><text class="c" x="101.8" y="10" style="fill:#aaa">–</text><text class="c" x="123" y="10">1</text><text class="c" x="144.5" y="10">+</text></g>
<g transform="translate(0,119.7)"><rect class="card" x="6" width="149.3" height="75.3" rx="10"/><text class="s6" x="14.7" y="16" style="fill:#55555c">Add alarm</text><rect class="sw" x="129" y="6.3" width="20" height="12.3" rx="6.1"/><circle class="kn" cx="135.3" cy="12.4" r="3"/>
<rect class="boxp" x="15.7" y="32.6" width="60" height="28" rx="3"/><text class="bigp" x="45" y="52.5">08</text><path d="M53.4 39V54" stroke="#8800ee" stroke-width=".6"/><rect class="box" x="85.3" y="32.6" width="60.4" height="28" rx="3"/><text class="big" x="115.5" y="52.5">00</text><circle cx="80.7" cy="43.3" r="1.1" fill="#26262c"/><circle cx="80.7" cy="53.3" r="1.1" fill="#26262c"/><text class="tiny" x="15.7" y="68">Hour</text><text class="tiny" x="85.3" y="68">Minute</text></g>
<rect class="on" x="6" y="204.3" width="149.3" height="16" rx="8"/><path d="M55 212.3H60.4M57.7 209.6V215" stroke="#ecdcff" stroke-width=".9"/><text class="cw" x="84" y="214.4" style="font-size:6px">Create habbit</text>
<g class="i"><use href="#i-bars" x="21.7" y="268"/><text class="tab" x="21.7" y="280.5">Charts</text>
<use href="#i-home" x="61.7" y="268"/><text class="tab" x="61.7" y="280.5">Today</text>
<rect class="on" x="89" y="258.7" width="25" height="27.6" rx="7"/><use href="#i-plus" x="101.4" y="268" color="#ecdcff"/><text class="tabon" x="101.4" y="280.5">Create</text>
<use href="#i-gear" x="141" y="268"/><text class="tab" x="141" y="280.5">Settings</text></g>
</g></g>

<g id="autocreate-custom"><text class="lbl" x="2603" y="716.7">AutoCreate custo...</text>
<g transform="translate(2603,723)"><rect class="f" width="162" height="288"/>
<text class="h" x="7" y="35.5">What do you want to do?</text>
<rect class="fldp" x="7" y="45" width="148.3" height="21.3" rx="1"/><rect x="11.5" y="43.8" width="14" height="2.4" fill="#f7f7f7"/><text class="flabp" x="13" y="46.4">Habit</text>
<text class="t" x="13" y="57.8">Meditate</text><path d="M35.5 52V60" stroke="#555" stroke-width=".5"/><use href="#i-clear" x="146" y="55.7"/>
<g transform="translate(0,74.3)"><rect class="on" x="6.3" width="43.4" height="12.6" rx="3"/><use href="#i-check" x="13" y="6.3" color="#efe0ff"/><text class="cw" x="30" y="8.3">Every day</text><rect class="chip" x="52.3" width="56.4" height="12.6" rx="3"/><text class="c" x="80.5" y="8.3">Every working day</text><rect class="chip" x="111.3" width="44.4" height="12.6" rx="3"/><text class="c" x="133.5" y="8.3">On weekends</text></g>
<g transform="translate(0,93.7)"><rect class="chip" x="6.3" width="18.7" height="12.6" rx="3"/><text class="c" x="15.6" y="8.3">Mon</text><rect class="chip" x="28" width="18.7" height="12.6" rx="3"/><text class="c" x="37.3" y="8.3">Tue</text><rect class="chip" x="50" width="18.7" height="12.6" rx="3"/><text class="c" x="59.3" y="8.3">Wed</text><rect class="chip" x="71.7" width="18.7" height="12.6" rx="3"/><text class="c" x="81" y="8.3">Thu</text><rect class="chip" x="93.7" width="18.7" height="12.6" rx="3"/><text class="c" x="103" y="8.3">Fri</text><rect class="chip" x="115.7" width="18.7" height="12.6" rx="3"/><text class="c" x="125" y="8.3">Sat</text><rect class="chip" x="137" width="18.7" height="12.6" rx="3"/><text class="c" x="146.3" y="8.3">Sun</text></g>
<text x="7" y="130" font-size="6.3" style="fill:#44444a">Times per day</text>
<g transform="translate(0,120.3)"><rect class="st1" x="91.3" width="64" height="15.4" rx="7.7"/><path class="dv" d="M112.3 0V15.4M133.7 0V15.4"/><text class="c" x="101.8" y="10" style="fill:#aaa">–</text><text class="c" x="123" y="10">1</text><text class="c" x="144.5" y="10">+</text></g>
<g transform="translate(0,150.3)"><rect class="card" x="6" width="149.3" height="75" rx="10"/><text class="s6" x="15" y="16" style="fill:#55555c">Add alarm</text><rect class="sw" x="129" y="6.1" width="20" height="12.3" rx="6.1"/><circle class="kn" cx="135.3" cy="12.3" r="3"/>
<rect class="box" x="15" y="32.7" width="60" height="27.3" rx="3"/><text class="big" x="45" y="52.5">08</text><rect class="box" x="85" y="32.7" width="60.4" height="27.3" rx="3"/><text class="big" x="115.3" y="52.5">00</text><circle cx="80.4" cy="43.3" r="1.1" fill="#26262c"/><circle cx="80.4" cy="53.3" r="1.1" fill="#26262c"/><text class="tiny" x="15" y="68">Hour</text><text class="tiny" x="85" y="68">Minute</text></g>
<rect class="on" x="6" y="234.7" width="149.3" height="15.7" rx="7.8"/><path d="M55 242.6H60.4M57.7 239.9V245.3" stroke="#ecdcff" stroke-width=".9"/><text class="cw" x="85" y="244.6" style="font-size:6px">Create habbit</text>
<g class="i"><use href="#i-bars" x="21.7" y="268"/><text class="tab" x="21.7" y="280.5">Charts</text>
<use href="#i-home" x="61.7" y="268"/><text class="tab" x="61.7" y="280.5">Today</text>
<rect class="on" x="89" y="258.7" width="25" height="27.6" rx="7"/><use href="#i-plus" x="101.4" y="268" color="#ecdcff"/><text class="tabon" x="101.4" y="280.5">Create</text>
<use href="#i-gear" x="141" y="268"/><text class="tab" x="141" y="280.5">Settings</text></g>
</g></g>

<g id="custom-create"><text class="lbl" x="2134" y="1043.3">Custom Create</text>
<g transform="translate(2134,1050.5)"><rect class="f" width="162" height="288"/>
<text class="h" x="7" y="35.5">What do you want to do?</text>
<rect class="fldp" x="7" y="44.8" width="148.3" height="21.3" rx="1"/><rect x="11.5" y="43.6" width="14" height="2.4" fill="#f7f7f7"/><text class="flabp" x="13" y="46.2">Habit</text>
<path d="M13 51V60" stroke="#a45cf0" stroke-width=".6"/><use href="#i-clear" x="146" y="55.6"/>
<g transform="translate(0,74.3)"><rect class="on" x="6.3" width="43.4" height="12.6" rx="3"/><use href="#i-check" x="13" y="6.3" color="#efe0ff"/><text class="cw" x="30" y="8.3">Every day</text><rect class="chip" x="52.3" width="56.4" height="12.6" rx="3"/><text class="c" x="80.5" y="8.3">Every working day</text><rect class="chip" x="111.3" width="44.4" height="12.6" rx="3"/><text class="c" x="133.5" y="8.3">On weekends</text></g>
<g transform="translate(0,93.7)"><rect class="chip" x="6.3" width="18.7" height="12.6" rx="3"/><text class="c" x="15.6" y="8.3">Mon</text><rect class="chip" x="28" width="18.7" height="12.6" rx="3"/><text class="c" x="37.3" y="8.3">Tue</text><rect class="chip" x="50" width="18.7" height="12.6" rx="3"/><text class="c" x="59.3" y="8.3">Wed</text><rect class="chip" x="71.7" width="18.7" height="12.6" rx="3"/><text class="c" x="81" y="8.3">Thu</text><rect class="chip" x="93.7" width="18.7" height="12.6" rx="3"/><text class="c" x="103" y="8.3">Fri</text><rect class="chip" x="115.7" width="18.7" height="12.6" rx="3"/><text class="c" x="125" y="8.3">Sat</text><rect class="chip" x="137" width="18.7" height="12.6" rx="3"/><text class="c" x="146.3" y="8.3">Sun</text></g>
<text x="7" y="130" font-size="6.3" style="fill:#44444a">Times per day</text>
<g transform="translate(0,120.3)"><rect class="st1" x="91.3" width="64" height="15.4" rx="7.7"/><path class="dv" d="M112.3 0V15.4M133.7 0V15.4"/><text class="c" x="101.8" y="10" style="fill:#aaa">–</text><text class="c" x="123" y="10">1</text><text class="c" x="144.5" y="10">+</text></g>
<g transform="translate(0,150.3)"><rect class="card" x="6" width="149.3" height="75" rx="10"/><text class="s6" x="15" y="16" style="fill:#55555c">Add alarm</text><rect class="sw" x="129" y="6.1" width="20" height="12.3" rx="6.1"/><circle class="kn" cx="135.3" cy="12.3" r="3"/>
<rect class="box" x="15" y="32.7" width="60" height="27.3" rx="3"/><text class="big" x="45" y="52.5">08</text><rect class="box" x="85" y="32.7" width="60.4" height="27.3" rx="3"/><text class="big" x="115.3" y="52.5">00</text><circle cx="80.4" cy="43.3" r="1.1" fill="#26262c"/><circle cx="80.4" cy="53.3" r="1.1" fill="#26262c"/><text class="tiny" x="15" y="68">Hour</text><text class="tiny" x="85" y="68">Minute</text></g>
<rect class="on" x="6" y="234.7" width="149.3" height="15.7" rx="7.8"/><path d="M55 242.6H60.4M57.7 239.9V245.3" stroke="#ecdcff" stroke-width=".9"/><text class="cw" x="85" y="244.6" style="font-size:6px">Create habbit</text>
<g class="i"><use href="#i-bars" x="21.7" y="268"/><text class="tab" x="21.7" y="280.5">Charts</text>
<use href="#i-home" x="61.7" y="268"/><text class="tab" x="61.7" y="280.5">Today</text>
<rect class="on" x="89" y="258.7" width="25" height="27.6" rx="7"/><use href="#i-plus" x="101.4" y="268" color="#ecdcff"/><text class="tabon" x="101.4" y="280.5">Create</text>
<use href="#i-gear" x="141" y="268"/><text class="tab" x="141" y="280.5">Settings</text></g>
</g></g>

<g id="create-v2"><text class="lbl" x="67" y="999.3">Create -v2</text>
<g transform="translate(67,1006.5)"><rect class="f" width="162" height="288"/>
<text class="h" x="6" y="35.5">What do you want to do?</text>
<g transform="translate(6.3,44.5)"><rect class="on" width="71.4" height="47.3" rx="6"/><use href="#i-plus" x="35.7" y="16.7" color="#ecdcff"/><text class="cw" x="35.7" y="36" style="font-size:6px">Create good habbit</text></g>
<g transform="translate(84,44.5)"><rect class="card" width="71.7" height="47.3" rx="6"/><use href="#i-minus" x="35.8" y="16.7" color="#333"/><text class="t m" x="35.8" y="36">Quit bad habbit</text></g>
<g transform="translate(6.3,97.8)"><rect class="card" width="71.4" height="47" rx="6"/><use href="#i-moon" x="35.7" y="16.7" color="#26262c"/><text class="t m" x="35.7" y="36">Sleep well</text></g>
<g transform="translate(84,97.8)"><rect class="card" width="71.7" height="47" rx="6"/><use href="#i-med" x="35.8" y="16.7" color="#26262c"/><text class="t m" x="35.8" y="36">Meditate</text></g>
<g transform="translate(6.3,151.2)"><rect class="card" width="71.4" height="47" rx="6"/><use href="#i-cup" x="35.7" y="16.7" color="#26262c"/><text class="t m" x="35.7" y="36">Water before coffee</text></g>
<g transform="translate(84,151.2)"><rect class="card" width="71.7" height="47" rx="6"/><use href="#i-dumb" x="35.8" y="16.7" color="#26262c"/><text class="t m" x="35.8" y="36">Exercise</text></g>
<g transform="translate(6.3,204.5)"><rect class="card" width="71.4" height="47" rx="6"/><use href="#i-fork" x="35.7" y="16.7" color="#26262c"/><text class="t m" x="35.7" y="36">Eat healthy</text></g>
<g transform="translate(84,204.5)"><rect class="card" width="71.7" height="47" rx="6"/><use href="#i-alarm" x="35.8" y="16.7" color="#26262c"/><text class="t m" x="35.8" y="36">Go to sleep early</text></g>
<g class="i"><use href="#i-bars" x="21.7" y="268"/><text class="tab" x="21.7" y="280.5">Charts</text>
<use href="#i-home" x="61.7" y="268"/><text class="tab" x="61.7" y="280.5">Today</text>
<rect class="on" x="89" y="258.7" width="25" height="27.6" rx="7"/><use href="#i-plus" x="101.4" y="268" color="#ecdcff"/><text class="tabon" x="101.4" y="280.5">Create</text>
<use href="#i-gear" x="141" y="268"/><text class="tab" x="141" y="280.5">Settings</text></g>
</g></g>

<g id="autocreate-v2"><text class="lbl" x="302" y="999.3">AutoCreate -v2</text>
<g transform="translate(302,1006.5)"><rect class="f" width="162" height="288"/>
<text class="h" x="6" y="35.5">Meditate</text><use href="#i-pen" x="53.3" y="31.3"/><text x="59" y="33" font-size="4.5" style="fill:#77757c">Customize your habbit</text>
<text x="6" y="54" font-size="6" style="fill:#44444a">Repeat</text>
<g transform="translate(0,63.2)"><rect class="on" x="6" width="43.4" height="12.6" rx="3"/><use href="#i-check" x="13" y="6.3" color="#efe0ff"/><text class="cw" x="30" y="8.3">Every day</text><rect class="chip" x="52" width="56.4" height="12.6" rx="3"/><text class="c" x="80.2" y="8.3">Every working day</text><rect class="chip" x="111" width="44.4" height="12.6" rx="3"/><text class="c" x="133.2" y="8.3">On weekends</text></g>
<g transform="translate(0,82.2)"><rect class="chip" x="6" width="18.7" height="12.6" rx="3"/><text class="c" x="15.3" y="8.3">Mon</text><rect class="chip" x="27.7" width="18.7" height="12.6" rx="3"/><text class="c" x="37" y="8.3">Tue</text><rect class="chip" x="49.7" width="18.7" height="12.6" rx="3"/><text class="c" x="59" y="8.3">Wed</text><rect class="chip" x="71.3" width="18.7" height="12.6" rx="3"/><text class="c" x="80.7" y="8.3">Thu</text><rect class="chip" x="93.3" width="18.7" height="12.6" rx="3"/><text class="c" x="102.7" y="8.3">Fri</text><rect class="chip" x="115.3" width="18.7" height="12.6" rx="3"/><text class="c" x="124.7" y="8.3">Sat</text><rect class="chip" x="137" width="18.4" height="12.6" rx="3"/><text class="c" x="146.2" y="8.3">Sun</text></g>
<text x="6" y="118.6" font-size="6.3" style="fill:#44444a">Times per day</text>
<g transform="translate(0,108.8)"><rect class="st1" x="91.3" width="64" height="15.4" rx="7.7"/><path class="dv" d="M112.3 0V15.4M133.7 0V15.4"/><text class="c" x="101.8" y="10" style="fill:#aaa">–</text><text class="c" x="123" y="10">1</text><text class="c" x="144.5" y="10">+</text></g>
<g transform="translate(0,138.8)"><rect class="card" x="6" width="149.3" height="74.7" rx="10"/><text class="s6" x="15" y="16" style="fill:#55555c">Add alarm</text><rect class="sw" x="129" y="6" width="20" height="12.3" rx="6.1"/><circle class="kn" cx="135.3" cy="12.2" r="3"/>
<rect class="boxp" x="15" y="32.4" width="60" height="28" rx="3"/><text class="bigp" x="45" y="52.5">08</text><path d="M53.4 38.5V53.5" stroke="#8800ee" stroke-width=".6"/><rect class="box" x="85" y="32.4" width="60.4" height="28" rx="3"/><text class="big" x="115.3" y="52.5">00</text><circle cx="80.7" cy="43" r="1.1" fill="#26262c"/><circle cx="80.7" cy="53" r="1.1" fill="#26262c"/><text class="tiny" x="15" y="67.5">Hour</text><text class="tiny" x="85" y="67.5">Minute</text></g>
<rect class="on" x="6" y="223.2" width="149.3" height="15.6" rx="7.8"/><path d="M55.8 231H61.2M58.5 228.3V233.7" stroke="#ecdcff" stroke-width=".9"/><text class="cw" x="85" y="233" style="font-size:6px">Create habbit</text>
<g class="i"><use href="#i-bars" x="21.7" y="268"/><text class="tab" x="21.7" y="280.5">Charts</text>
<use href="#i-home" x="61.7" y="268"/><text class="tab" x="61.7" y="280.5">Today</text>
<rect class="on" x="89" y="258.7" width="25" height="27.6" rx="7"/><use href="#i-plus" x="101.4" y="268" color="#ecdcff"/><text class="tabon" x="101.4" y="280.5">Create</text>
<use href="#i-gear" x="141" y="268"/><text class="tab" x="141" y="280.5">Settings</text></g>
</g></g>

<g id="connectors">
<path class="lnk arr" d="M233 408H302"/>
<path class="lnk arr" d="M469 408H538"/>
<path class="lnk arr" d="M707 408H818"/>
<path class="lnk arr" d="M930 408.5H990"/>
<path class="lnk arr" d="M874.5 463V607Q874.5 615 882.5 615H990"/>
<path class="lnk arr" d="M1156 276.5H1485Q1493 276.5 1493 284.5V429"/>
<path class="lnk arr" d="M1156 735H1226"/>
<path class="lnk arr" d="M1265.5 696V438Q1265.5 430 1273.5 430H1748"/>
<path class="lnk arr" d="M1859 430.5H1918"/>
<path class="lnk arr" d="M1803.5 376V313.5"/>
<path class="lnk arr" d="M1803 234V133Q1803 125 1811 125H2005Q2013 125 2013 133V157"/>
<path class="lnk arr" d="M2033.5 453V724Q2033.5 732 2041.5 732H2134"/>
<path class="lnk arr" d="M2300 434.3H2409"/>
<path class="lnk arr" d="M2134 784H2078.7Q2070.7 784 2070.7 792V1158.7Q2070.7 1166.7 2078.7 1166.7H2134"/>
<path class="lnk arr" d="M2296 830H2369"/>
<path class="lnk arr" d="M2484.3 754.3H2603"/>
<use href="#hot" x="2134" y="784"/><use href="#hot" x="2296" y="830"/><use href="#hot" x="2484.3" y="754.3"/>
<g class="pill">
<rect x="246.5" y="401" width="38" height="14" rx="7"/><text x="265.5" y="410">Click Here</text>
<rect x="482.5" y="401" width="38" height="14" rx="7"/><text x="501.5" y="410">Click Here</text>
<rect x="744" y="401" width="32" height="14" rx="7"/><text x="760" y="410">Loading</text>
<rect x="949" y="401.5" width="20" height="14" rx="7"/><text x="959" y="410.5">No</text>
<rect x="864.5" y="569" width="20" height="14" rx="7"/><text x="874.5" y="578">Yes</text>
<rect x="1371" y="269.5" width="38" height="14" rx="7"/><text x="1390" y="278.5">Click Here</text>
<rect x="1170" y="728" width="38" height="14" rx="7"/><text x="1189" y="737">Click Here</text>
<rect x="1878" y="423.5" width="20" height="14" rx="7"/><text x="1888" y="432.5">No</text>
<rect x="1793" y="339" width="21" height="14" rx="7"/><text x="1803.5" y="348">Yes</text>
<rect x="1935" y="509.5" width="38" height="14" rx="7"/><text x="1954" y="518.5">Click Here</text>
<rect x="2064.5" y="725" width="38" height="14" rx="7"/><text x="2083.5" y="734">Click Here</text>
<rect x="2334" y="427.3" width="38" height="14" rx="7"/><text x="2353" y="436.3">Click Here</text>
<rect x="2056" y="968.7" width="38" height="14" rx="7"/><text x="2075" y="977.7">Click Here</text>
<rect x="2313.7" y="823" width="38" height="14" rx="7"/><text x="2332.7" y="832">Click Here</text>
<rect x="2524.7" y="747.3" width="38" height="14" rx="7"/><text x="2543.7" y="756.3">Click Here</text>
</g>
<path class="lnk arr" d="M1954 453V677Q1954 685 1946 685H1438Q1430 685 1430 693V847Q1430 855 1438 855H1468"/>
</g>
</svg>
